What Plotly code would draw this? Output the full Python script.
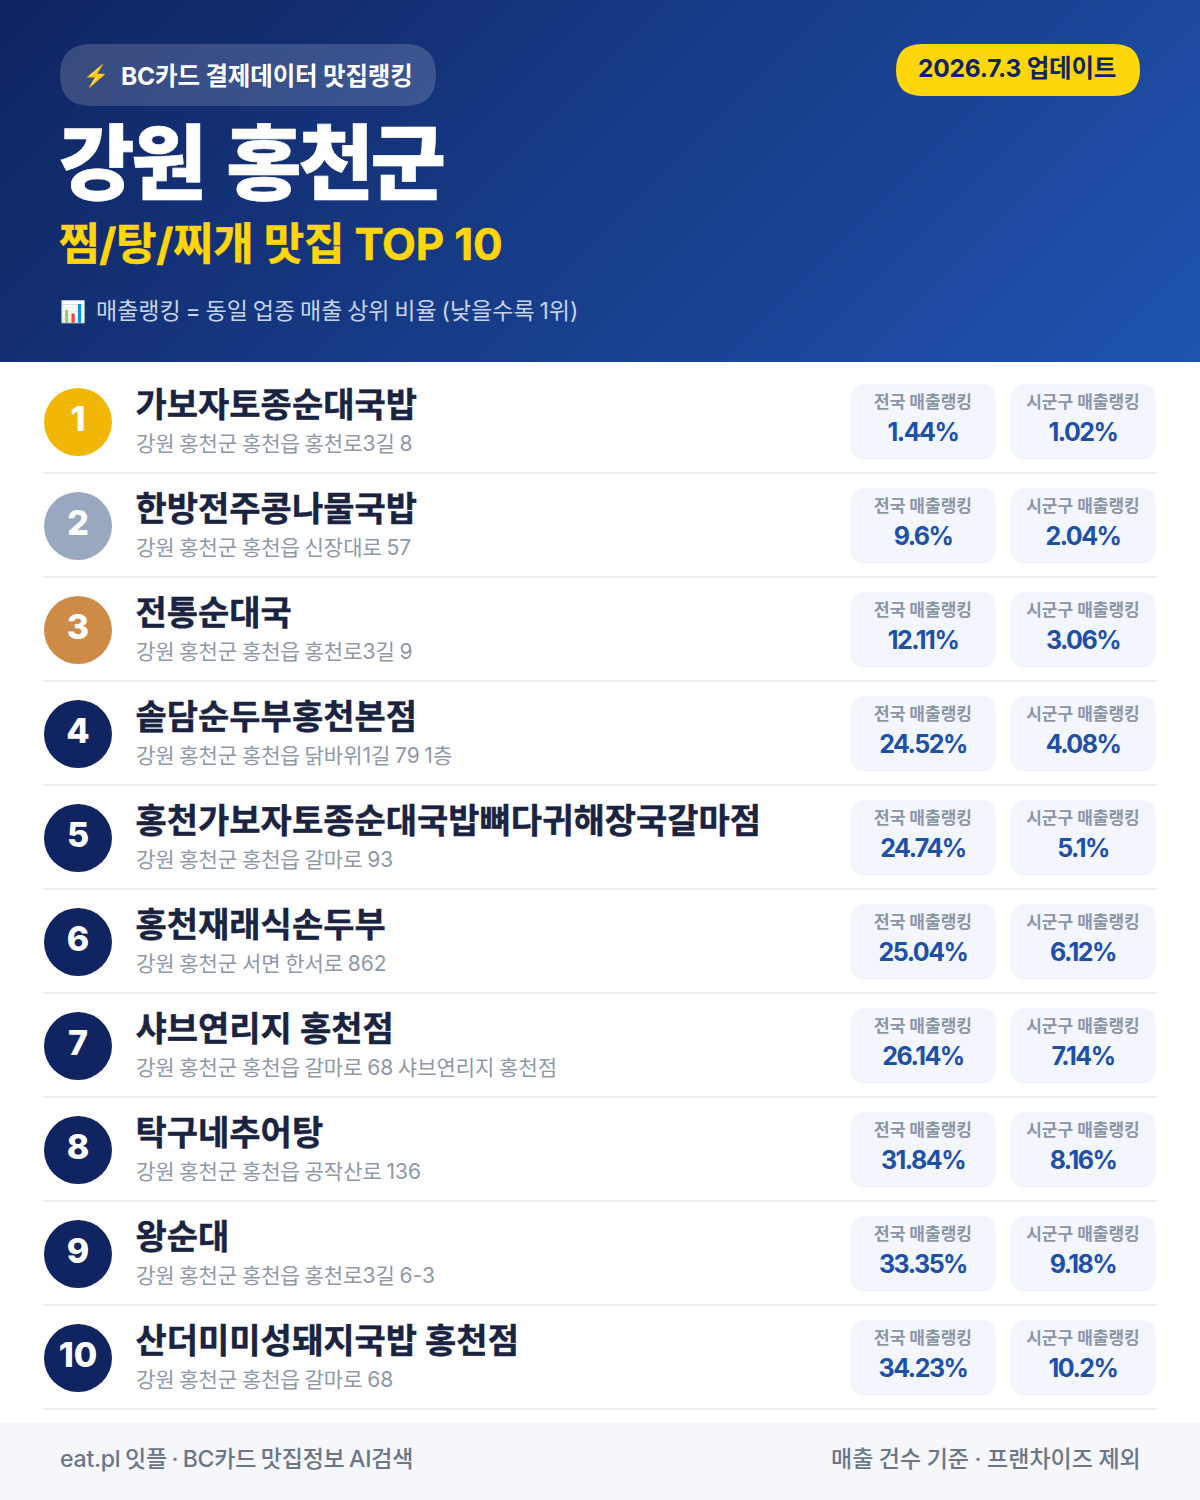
import plotly.graph_objects as go

# --- DATA ---
REGION = "강원 홍천군"
SUBTITLE = "찜/탕/찌개 맛집 TOP 10"
PILL_TEXT = "BC카드 결제데이터 맛집랭킹"
UPDATED = "2026.7.3 업데이트"
NOTE_TEXT = "매출랭킹 = 동일 업종 매출 상위 비율 (낮을수록 1위)"
FOOT_LEFT = "eat.pl 잇플 · BC카드 맛집정보 AI검색"
FOOT_RIGHT = "매출 건수 기준 · 프랜차이즈 제외"
LABEL_NATIONAL = "전국 매출랭킹"
LABEL_LOCAL = "시군구 매출랭킹"

ranks = [1, 2, 3, 4, 5, 6, 7, 8, 9, 10]
names = [
    "가보자토종순대국밥", "한방전주콩나물국밥", "전통순대국", "솥담순두부홍천본점",
    "홍천가보자토종순대국밥뼈다귀해장국갈마점", "홍천재래식손두부", "샤브연리지 홍천점",
    "탁구네추어탕", "왕순대", "산더미미성돼지국밥 홍천점",
]
addresses = [
    "강원 홍천군 홍천읍 홍천로3길 8", "강원 홍천군 홍천읍 신장대로 57",
    "강원 홍천군 홍천읍 홍천로3길 9", "강원 홍천군 홍천읍 닭바위1길 79 1층",
    "강원 홍천군 홍천읍 갈마로 93", "강원 홍천군 서면 한서로 862",
    "강원 홍천군 홍천읍 갈마로 68 샤브연리지 홍천점", "강원 홍천군 홍천읍 공작산로 136",
    "강원 홍천군 홍천읍 홍천로3길 6-3", "강원 홍천군 홍천읍 갈마로 68",
]
national = ["1.44%", "9.6%", "12.11%", "24.52%", "24.74%", "25.04%", "26.14%", "31.84%", "33.35%", "34.23%"]
local = ["1.02%", "2.04%", "3.06%", "4.08%", "5.1%", "6.12%", "7.14%", "8.16%", "9.18%", "10.2%"]

# --- STYLE ---
FONT = "Inter, Noto Sans CJK KR, sans-serif"
NAVY = "#0f2460"
YELLOW = "#ffd60a"
BLUE = "#1e50a8"
INK = "#1a2340"
MEDAL = {1: "#f2b705", 2: "#9aa8bf", 3: "#cd8b47"}
ROW_H = 104
ROW_Y = [422 + ROW_H * i for i in range(len(ranks))]


def round_rect(x0, y0, x1, y1, r, fill, layer="below"):
    path = (f"M{x0 + r},{y0} L{x1 - r},{y0} Q{x1},{y0} {x1},{y0 + r} "
            f"L{x1},{y1 - r} Q{x1},{y1} {x1 - r},{y1} "
            f"L{x0 + r},{y1} Q{x0},{y1} {x0},{y1 - r} "
            f"L{x0},{y0 + r} Q{x0},{y0} {x0 + r},{y0} Z")
    return dict(type="path", path=path, xref="x", yref="y", fillcolor=fill,
                line=dict(width=0), layer=layer)


def spaced(text, ls=0, ws=0, extra=""):
    # plotly has no letter spacing option, but keeps the style of a span
    return f'<span style="letter-spacing:{ls}px;word-spacing:{ws}px;{extra}">{text}</span>'


def label(x, y, text, size, color, weight=400, anchor="left"):
    return dict(x=x, y=y, text=text, xref="x", yref="y", showarrow=False,
                xanchor=anchor, yanchor="middle",
                font=dict(family=FONT, size=size, color=color, weight=weight))


def text_trace(xs, ys, texts, size, color, weight, pos):
    return go.Scatter(x=xs, y=ys, text=texts, mode="text", textposition=pos,
                      textfont=dict(family=FONT, size=size, color=color, weight=weight),
                      hoverinfo="skip", showlegend=False, cliponaxis=False)


fig = go.Figure()

# header gradient lives on its own y axis so it is clipped to the header box
fig.add_trace(go.Heatmap(
    x=[0, 1200], y=[0, 362], z=[[0, 1200], [362, 1562]], yaxis="y2",
    zsmooth="best", showscale=False, hoverinfo="skip",
    colorscale=[[0, NAVY], [1, "#1f54b0"]],
))

shapes = [
    round_rect(60, 44, 436, 106, 31, "rgba(255,255,255,0.17)", "above"),
    round_rect(896, 44, 1140, 96, 26, YELLOW, "above"),
    dict(type="rect", x0=0, x1=1200, y0=1422, y1=1500, xref="x", yref="y",
         fillcolor="#f5f7fb", line=dict(width=0), layer="below"),
]
for y in ROW_Y:
    shapes.append(round_rect(850, y - 38, 996, y + 38, 16, "#f3f6fc"))
    shapes.append(round_rect(1010, y - 38, 1156, y + 38, 16, "#f3f6fc"))
    shapes.append(dict(type="line", x0=44, x1=1156, y0=y + 51, y1=y + 51, xref="x", yref="y",
                       line=dict(color="#eceef2", width=2), layer="below"))

# rank circles
fig.add_trace(go.Scatter(
    x=[78] * len(ranks), y=ROW_Y, mode="markers+text", text=[str(r) for r in ranks],
    textposition="middle center",
    textfont=dict(family=FONT, size=34, color="white", weight=800),
    marker=dict(size=68, color=[MEDAL.get(r, NAVY) for r in ranks], line=dict(width=0)),
    hoverinfo="skip", showlegend=False, cliponaxis=False,
))

fig.add_trace(text_trace([135.5] * 10, [y - 14 for y in ROW_Y],
                         [spaced(n, extra=f"stroke:{INK};stroke-width:0.4px;") for n in names],
                         34, INK, 700, "middle right"))
fig.add_trace(text_trace([136] * 10, [y + 24 for y in ROW_Y], [spaced(a, ws=-1.25) for a in addresses],
                         21, "#8e98a8", 400, "middle right"))
fig.add_trace(text_trace([923] * 10, [y - 18 for y in ROW_Y], [LABEL_NATIONAL] * 10, 17, "#8b95a5", 700, "middle center"))
fig.add_trace(text_trace([1083] * 10, [y - 18 for y in ROW_Y], [LABEL_LOCAL] * 10, 17, "#8b95a5", 700, "middle center"))
fig.add_trace(text_trace([923] * 10, [y + 13 for y in ROW_Y], [spaced(v, ls=-1.5) for v in national],
                         25, BLUE, 700, "middle center"))
fig.add_trace(text_trace([1083] * 10, [y + 13 for y in ROW_Y], [spaced(v, ls=-1.5) for v in local],
                         25, BLUE, 700, "middle center"))

annotations = [
    label(81, 76, "⚡", 21, YELLOW),
    label(119, 76, spaced(PILL_TEXT, ls=-0.15), 24.5, "white", 700),
    label(1017, 68, spaced(UPDATED, ls=-0.2), 24.5, NAVY, 700, "center"),
    label(57, 163, spaced(REGION, ls=-3.3, ws=10, extra="stroke:#ffffff;stroke-width:0.6px;"), 82, "white", 900),
    label(57, 244, spaced(SUBTITLE, ls=-0.25, extra=f"stroke:{YELLOW};stroke-width:0.5px;"), 44, YELLOW, 700),
    label(58, 311, "📊", 21, "#ffffff"),
    label(94, 311, spaced(NOTE_TEXT, ws=-1.6), 23, "#c7d4ea", 400),
    label(58, 1459, spaced(FOOT_LEFT, ls=-0.2, ws=-1.4), 23, "#6b7688", 500),
    label(1143, 1459, spaced(FOOT_RIGHT, ws=-0.6), 23, "#6b7688", 500, "right"),
]

fig.update_layout(
    width=1200, height=1500, margin=dict(l=0, r=0, t=0, b=0),
    paper_bgcolor="white", plot_bgcolor="rgba(0,0,0,0)",
    xaxis=dict(range=[0, 1200], visible=False, fixedrange=True),
    yaxis=dict(range=[1500, 0], domain=[0, 1], visible=False, fixedrange=True),
    yaxis2=dict(range=[362, 0], domain=[1 - 362 / 1500, 1], visible=False, fixedrange=True,
                anchor="x"),
    shapes=shapes, annotations=annotations, showlegend=False,
)

fig.write_html("out.html", config={"displayModeBar": False},
               post_script="document.body.style.margin='0';")
